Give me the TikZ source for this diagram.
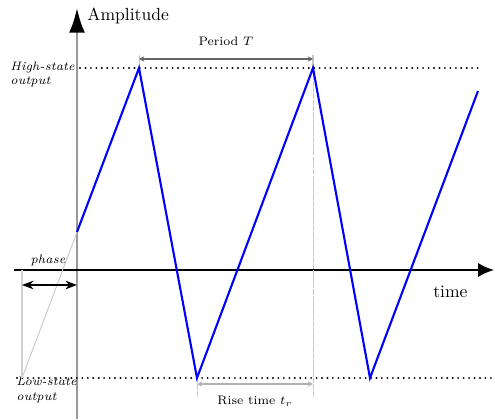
\documentclass[tikz,border=0pt]{standalone}
\usepackage{tikz}
\usetikzlibrary{arrows.meta, positioning, calc}

\begin{document}
\begin{tikzpicture}[x=0.02cm,y=-0.02cm,>=Stealth,
    level/.style={line width=1.2pt,line cap=round,dash pattern=on 0pt off 3.1pt},
    guide/.style={gray!45,line width=0.5pt},
    wave/.style={blue,line width=1.2pt,line join=miter},
    tag/.style={font=\scriptsize\itshape,align=left,inner sep=0pt}]
  \useasboundingbox (0,0) rectangle (495,419);
  % corners of the wave
  \coordinate (s0) at (77,232);
  \coordinate (p1) at (139,68);
  \coordinate (v1) at (197,378);
  \coordinate (p2) at (313,68);
  \coordinate (v2) at (370,378);
  \coordinate (s1) at (478,91);
  \coordinate (lo) at (22,378);
  % axes
  \coordinate (ybot) at (77,419);
  \coordinate (ytop) at (77,8);
  \coordinate (xl) at (14,270);
  \coordinate (xr) at (494,270);
  \draw[gray!80,line width=1.3pt,-{Latex[black,length=14pt,width=9pt]}] (ybot)--(ytop);
  \draw[line width=1.1pt,-{Latex[length=9pt,width=8pt]}] (xl)--(xr);
  \node[anchor=west,inner sep=0pt] (amp) at (87,16) {Amplitude};
  \node[anchor=west,inner sep=0pt] (time) at (433,292) {time};
  % state levels
  \draw[level] (80,68)--(483,68);
  \draw[level] (17,378)--(495,378);
  \node[tag,anchor=west] (high) at (10,74) {High-state\\output};
  \node[tag,anchor=west] (low) at (16,390) {Low-state\\output};
  % phase
  \draw[guide] (s0)--(lo);
  \draw[gray!35,line width=0.9pt] (22,270)--(lo);
  \coordinate (ph0) at (22,285);
  \coordinate (ph1) at (77,285);
  \draw[<->,line width=0.8pt] (ph0)--(ph1);
  \node[tag,anchor=south] (phase) at (48,266) {phase};
  % period
  \draw[guide] (p1)--++(0,-13);
  \draw[guide,line width=0.7pt] (p2)--++(0,-13);
  \draw[guide,dash pattern=on 3pt off 0.6pt] (p2)--(313,398);
  \draw[guide,dash pattern=on 3pt off 0.6pt] (v1)--(197,398);
  \draw[<->,gray!80!black,line width=0.6pt,>={Stealth[length=3pt,width=3pt]}] (139,59)--(313,59)
    node[midway,above=4pt,black,font=\scriptsize] (per) {Period $T$};
  \draw[<->,gray!60,line width=0.9pt,>={Stealth[length=3pt,width=3pt]}] (197,384)--(313,384)
    node[midway,below=3pt,black,font=\scriptsize] (rise) {Rise time $t_r$};
  % the triangle wave
  \draw[wave] (s0)--(p1)--(v1)--(p2)--(v2)--(s1);
\end{tikzpicture}
\end{document}
